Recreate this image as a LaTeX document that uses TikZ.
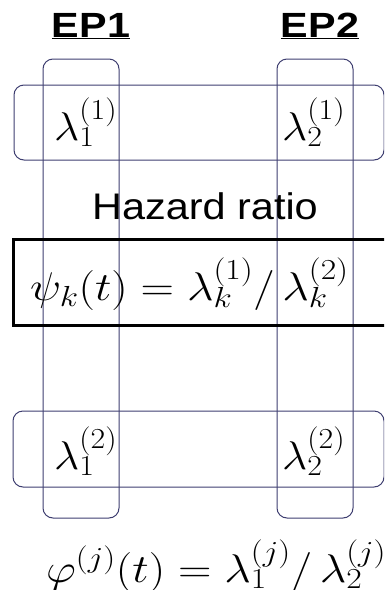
\RequirePackage{fix-cm}
\documentclass[tikz,border=0pt]{standalone}
\usepackage{fontspec}
\newfontfamily\arial{Liberation Sans}
\DeclareMathSizes{40}{40}{29}{22}
\definecolor{frame}{RGB}{62,62,112}
\begin{document}
\begin{tikzpicture}[x=1pt,y=-1pt,
  grp/.style={draw=frame,line width=1pt,rounded corners=10pt},
  hdr/.style={font=\arial\bfseries\fontsize{35}{40}\selectfont,inner sep=0pt,anchor=base,xscale=1.18,transform shape},
  lam/.style={font=\fontsize{40}{44}\selectfont,inner sep=0pt,anchor=base west,xscale=1.1,transform shape},
  eq/.style={font=\fontsize{40}{44}\selectfont,inner sep=0pt,anchor=base west,xscale=1.16,transform shape}]
\useasboundingbox (0,0) rectangle (384,590);
\clip (0,0) rectangle (384,590);
% vertical groups
\draw[grp] (43,59) rectangle (119,518);
\draw[grp] (277,59) rectangle (353,518);
% horizontal groups
\draw[grp] (14,85) rectangle (384,160);
\draw[grp] (13,411) rectangle (384,487);
% headers
\node[hdr] (ep1) at (91,37) {\underline{EP1}};
\node[hdr] (ep2) at (320,37) {\underline{EP2}};
% lambdas
\node[lam] (l11) at (54,140) {$\lambda_1^{(1)}$};
\node[lam] (l21) at (282,140) {$\lambda_2^{(1)}$};
\node[lam] (l12) at (54,469) {$\lambda_1^{(2)}$};
\node[lam] (l22) at (282,469) {$\lambda_2^{(2)}$};
% hazard ratio
\node[font=\arial\fontsize{37}{42}\selectfont,inner sep=0pt,anchor=base,xscale=1.12,transform shape] (hr) at (205,219) {Hazard ratio};
\draw[line width=3pt] (13,239) rectangle (392,325);
\node[eq] (psi) at (30,300) {$\psi_k(t)=\lambda_k^{(1)}/\,\lambda_k^{(2)}$};
\node[eq] (phi) at (46,582) {$\varphi^{(j)}(t)=\lambda_1^{(j)}/\,\lambda_2^{(j)}$};
\end{tikzpicture}
\end{document}
